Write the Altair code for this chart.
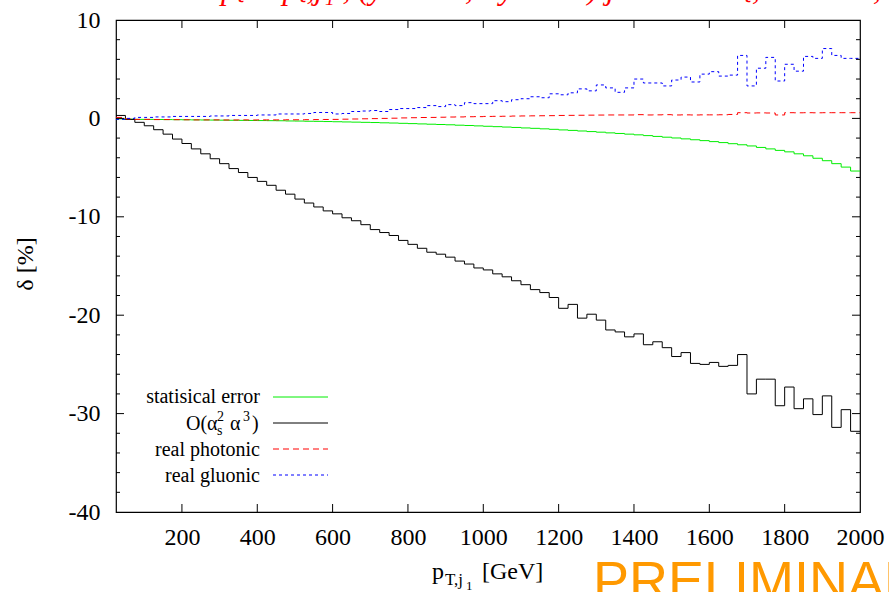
import altair as alt
import pandas as pd

# ---------------- data ----------------
pt_low = list(range(25, 2000, 25))  # lower edges of 25 GeV bins
PT_MAX = 2000

stat_err = [-0.05, -0.08, -0.1, -0.1, -0.11, -0.12, -0.13, -0.14, -0.15, -0.16,
            -0.17, -0.18, -0.19, -0.2, -0.21, -0.22, -0.23, -0.24, -0.26, -0.27,
            -0.29, -0.3, -0.32, -0.34, -0.36, -0.38, -0.4, -0.42, -0.45, -0.47,
            -0.5, -0.53, -0.56, -0.59, -0.62, -0.65, -0.69, -0.72, -0.76, -0.8,
            -0.84, -0.88, -0.92, -0.97, -1.01, -1.06, -1.11, -1.17, -1.22, -1.28,
            -1.34, -1.4, -1.47, -1.53, -1.6, -1.67, -1.75, -1.83, -1.91, -1.99,
            -2.08, -2.17, -2.26, -2.36, -2.46, -2.57, -2.68, -2.8, -2.95, -3.1,
            -3.25, -3.4, -3.6, -3.8, -4.05, -4.3, -4.6, -4.95, -5.35]

o_as2a3 = [0.3, -0.1, -0.4, -0.75, -1.15, -1.6, -2.1, -2.55, -3.1, -3.6,
           -4.1, -4.6, -5.1, -5.5, -6.0, -6.4, -6.8, -7.3, -7.7, -8.2,
           -8.6, -9.0, -9.4, -9.7, -10.1, -10.4, -10.8, -11.3, -11.6, -11.9,
           -12.4, -12.8, -13.2, -13.6, -13.8, -14.1, -14.5, -14.8, -15.2, -15.4,
           -15.8, -16.1, -16.5, -16.9, -17.4, -17.7, -18.2, -19.3, -18.9, -20.3,
           -19.9, -20.5, -21.5, -21.7, -22.2, -21.9, -23.0, -22.7, -23.3, -24.2,
           -23.8, -24.9, -25.0, -24.8, -25.2, -25.1, -24.0, -28.0, -26.5, -26.5,
           -29.2, -27.3, -29.5, -28.5, -30.1, -28.2, -31.4, -29.6, -31.8]

real_photonic = [0.1, -0.05, -0.1, -0.1, -0.12, -0.12, -0.13, -0.14, -0.15, -0.15,
                 -0.15, -0.16, -0.16, -0.15, -0.16, -0.15, -0.15, -0.15, -0.14, -0.14,
                 -0.13, -0.12, -0.11, -0.1, -0.08, -0.06, -0.04, -0.02, 0.0, 0.02,
                 0.05, 0.07, 0.09, 0.1, 0.12, 0.14, 0.15, 0.17, 0.18, 0.2,
                 0.21, 0.22, 0.24, 0.25, 0.26, 0.27, 0.28, 0.3, 0.31, 0.32,
                 0.33, 0.34, 0.35, 0.35, 0.35, 0.38, 0.35, 0.36, 0.38, 0.35,
                 0.36, 0.35, 0.36, 0.36, 0.37, 0.4, 0.58, 0.55, 0.56, 0.55,
                 0.35, 0.58, 0.57, 0.58, 0.57, 0.58, 0.58, 0.58, 0.58]

real_gluonic = [-0.1, 0.0, 0.1, 0.1, 0.15, 0.15, 0.2, 0.2, 0.2, 0.2,
                0.25, 0.25, 0.3, 0.3, 0.3, 0.35, 0.35, 0.45, 0.45, 0.45,
                0.5, 0.6, 0.6, 0.45, 0.5, 0.7, 0.75, 0.8, 0.7, 0.9,
                1.0, 1.0, 1.1, 1.3, 1.2, 1.4, 1.3, 1.6, 1.5, 1.5,
                1.8, 1.7, 1.9, 2.0, 2.2, 2.1, 2.5, 2.4, 2.6, 3.0,
                2.8, 3.4, 3.1, 2.65, 3.1, 4.0, 3.6, 3.6, 3.3, 3.9,
                4.2, 3.7, 4.5, 4.75, 4.3, 4.4, 6.4, 3.3, 5.1, 6.2,
                3.8, 5.5, 4.8, 6.3, 6.1, 7.1, 6.4, 6.1, 6.1]

x_label_vals = [200, 400, 600, 800, 1000, 1200, 1400, 1600, 1800, 2000]
y_label_vals = [-40, -30, -20, -10, 0, 10]
x_tick_vals = [200, 400, 600, 800, 1000, 1200, 1400, 1600, 1800]
y_major_ticks = [-30, -20, -10, 0]
y_minor_ticks = [-38, -36, -34, -32, -28, -26, -24, -22, -18, -16, -14, -12,
                 -8, -6, -4, -2, 2, 4, 6, 8]

legend_labels = ["statisical error", "O(\u03b1s2 \u03b13)", "real photonic", "real gluonic"]
top_title = "p\u209c = p\u209c,j\u2081 ,  (y  \u2264 2.5 ,  \u0394y \u2264 2.5)    jets: anti-k\u209c, R = 0.6 ,  |y| \u2264 2.5 ,)"

# ---------------- layout ----------------
W, H = 744, 492
SERIF = "Liberation Serif"

xs = alt.Scale(domain=[25, 2000], nice=False, zero=False)
ys = alt.Scale(domain=[-40, 10], nice=False, zero=False)

xaxis = alt.Axis(values=x_label_vals, ticks=False, domain=False, grid=False,
                 labelFont=SERIF, labelFontSize=24, labelColor="black",
                 labelPadding=13, labelFlush=False, labelOverlap=False,
                 labelExpr="'' + datum.value")
yaxis = alt.Axis(values=y_label_vals, ticks=False, domain=False, grid=False,
                 labelFont=SERIF, labelFontSize=24, labelColor="black",
                 labelPadding=16, labelFlush=False, labelOverlap=False,
                 labelExpr="(datum.value < 0 ? '-' : '') + abs(datum.value)")


def steps(vals):
    assert len(vals) == len(pt_low)
    return pd.DataFrame({"pt": pt_low + [PT_MAX], "delta": vals + [vals[-1]]})


def series(vals, color, dash=None):
    mk = dict(interpolate="step-after", color=color, strokeWidth=1)
    if dash:
        mk["strokeDash"] = dash
    return alt.Chart(steps(vals)).mark_line(**mk).encode(
        x=alt.X("pt:Q", scale=xs, axis=xaxis, title=None),
        y=alt.Y("delta:Q", scale=ys, axis=yaxis, title=None),
    )


def xticks(vals, y0, y1):
    return alt.Chart(pd.DataFrame({"t": vals})).mark_rule(color="black", strokeWidth=1).encode(
        x=alt.X("t:Q", scale=xs, axis=xaxis, title=None),
        y=alt.value(y0), y2=alt.value(y1))


def yticks(vals, x0, x1):
    return alt.Chart(pd.DataFrame({"t": vals})).mark_rule(color="black", strokeWidth=1).encode(
        y=alt.Y("t:Q", scale=ys, axis=yaxis, title=None),
        x=alt.value(x0), x2=alt.value(x1))


def label(text, x, y, size=20, font=SERIF, color="black", align="left",
          baseline="alphabetic", angle=0, style=""):
    mk = dict(align=align, baseline=baseline, font=font, fontSize=size, color=color)
    if angle:
        mk["angle"] = angle
    if style:
        mk["fontStyle"] = style
    return alt.Chart(pd.DataFrame({"s": [text]})).mark_text(**mk).encode(
        x=alt.value(x), y=alt.value(y), text="s:N")


def legline(y, color, dash=None):
    mk = dict(color=color, strokeWidth=1)
    if dash:
        mk["strokeDash"] = dash
    return alt.Chart(pd.DataFrame({"k": [0]})).mark_rule(**mk).encode(
        x=alt.value(157), x2=alt.value(212), y=alt.value(y))


GREEN, RED, BLUE = "#00ee00", "#ff0000", "#0000ff"
DASH_RED, DASH_BLUE = [6, 4], [3, 3]

layers = [
    series(stat_err, GREEN),
    series(o_as2a3, "black"),
    series(real_photonic, RED, DASH_RED),
    series(real_gluonic, BLUE, DASH_BLUE),
    xticks(x_tick_vals, H, H - 8),
    xticks(x_tick_vals, 0, 8),
    yticks(y_major_ticks, 0, 8),
    yticks(y_major_ticks, W, W - 8),
    yticks(y_minor_ticks, 0, 4),
    yticks(y_minor_ticks, W, W - 4),
    # legend
    label(legend_labels[0], 144, 383, align="right"),
    label("O(\u03b1", 70, 410),
    label("s", 101, 415, size=14),
    label("2", 101, 401, size=14),
    label("\u03b1", 114, 410),
    label("3", 127, 401, size=14),
    label(")", 136, 410),
    label(legend_labels[2], 144, 436, align="right"),
    label(legend_labels[3], 144, 462, align="right"),
    legline(377, GREEN),
    legline(403, "black"),
    legline(429, RED, DASH_RED),
    legline(455, BLUE, DASH_BLUE),
    # axis titles
    label("\u03b4 [%]", -83, 244, size=24, align="center", angle=270),
    label("p", 316, 559, size=24),
    label("T,j", 329, 565, size=17),
    label("1", 350, 570, size=13),
    label("[GeV]", 366, 559, size=24),
    # title clipped at the top edge, watermark clipped at the bottom right
    label(top_title, 105, -21, size=32, color=RED, style="italic"),
    label("PRELIMINARY", 477, 579, size=54, font="Liberation Sans", color="#ff9900"),
]

chart = alt.layer(*layers).properties(
    width=W, height=H,
    padding={"left": 116, "top": 20, "right": 29, "bottom": 80},
    autosize=alt.AutoSizeParams(type="none"),
).configure(font=SERIF).configure_axis(labelFont=SERIF).configure_view(
    stroke="black", strokeWidth=1.2)

chart.save("out.html", embed_options={"renderer": "svg", "actions": False})
